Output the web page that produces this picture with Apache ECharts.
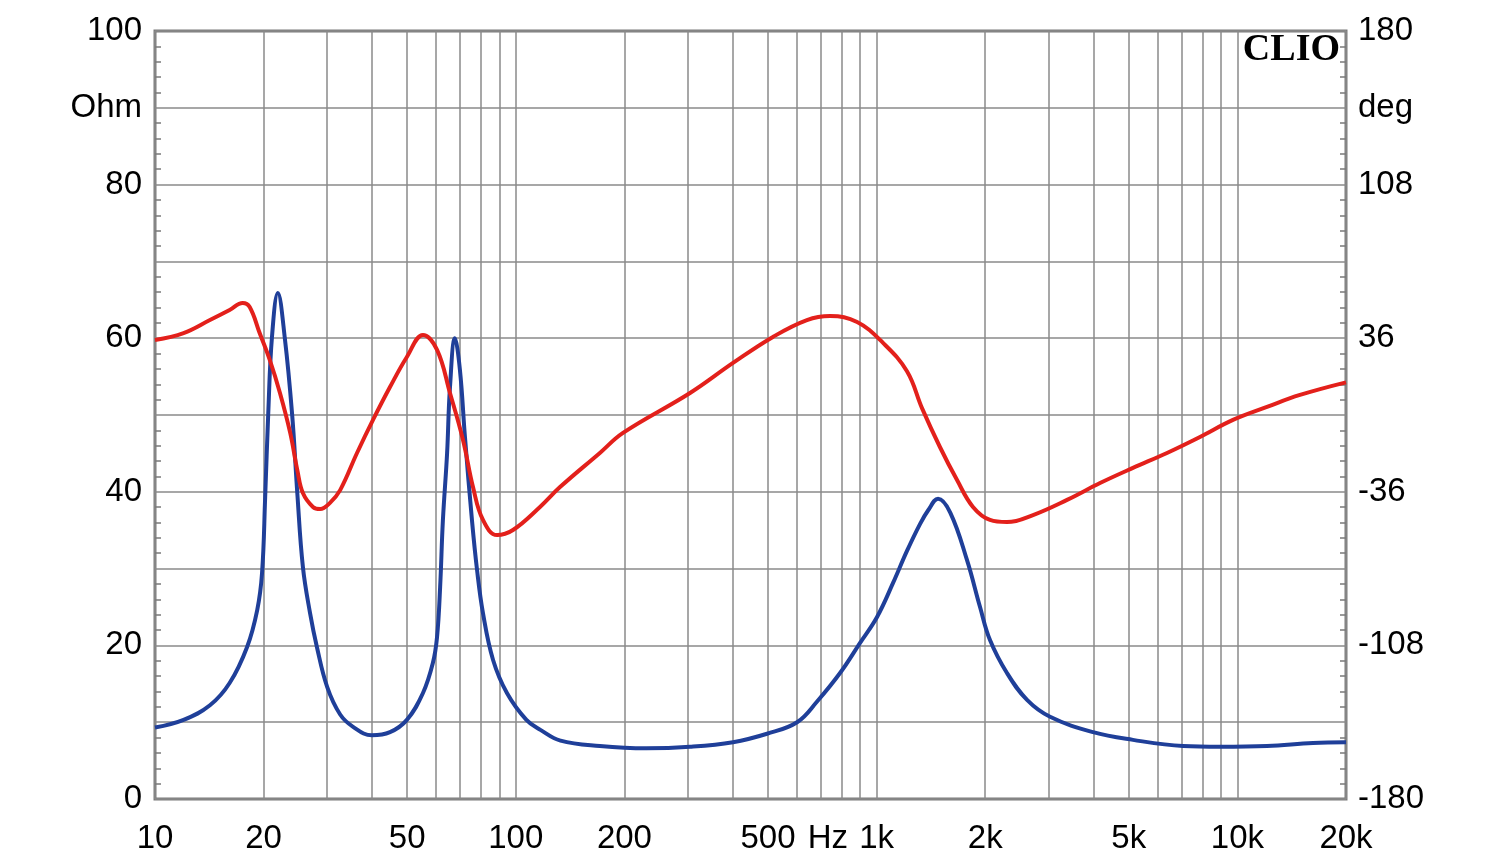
<!DOCTYPE html>
<html>
<head>
<meta charset="utf-8">
<style>
html,body{margin:0;padding:0;background:#fff;}
#chart{width:1500px;height:864px;}
</style>
<script src="https://cdn.jsdelivr.net/npm/echarts@6/dist/echarts.min.js"></script>
</head>
<body>
<div id="chart"></div>
<script>
// Impedance (Ohm) vs frequency (Hz)
const impFreq = [10,12,14.2,16.1,18,19.2,19.8,20.2,20.6,21.1,21.9,22.9,24,24.8,25.7,26.9,28.1,30,32.6,35.4,39.9,44.8,49.9,55.3,58.9,60.5,61.7,62.8,64.5,65.7,67.8,70,72.3,75.6,78.1,81.1,86.5,94.5,107,117,133,171,230,304,400,497,602,684,792,899,1003,1110,1214,1319,1390,1480,1600,1781,1935,2062,2298,2612,3025,3980,5135,7068,8950,12080,16200,20000];
const impOhm  = [9.3,10.3,12.2,15.1,19.8,24.6,29.4,39.3,50.2,60.2,65.9,60,50,39.8,30.2,24.2,19.8,14.6,11,9.4,8.3,8.7,10.3,13.8,17.7,21.1,27.6,36.3,45,53.6,60,55.9,47.1,36.3,29.8,24.2,18.1,13.8,10.3,9.0,7.6,6.9,6.6,6.8,7.4,8.5,10.0,12.7,16.4,20.3,23.7,28.1,32.3,35.8,37.6,39.1,37.3,31.1,25,20.7,16.4,12.9,10.7,8.7,7.7,6.9,6.8,6.9,7.3,7.4];
// Phase (deg) vs frequency (Hz)
const phaseFreq = [10,12,14.2,16.1,17.5,18.3,19.5,20.8,22.2,23.7,24.8,25.7,27.4,28.7,30.5,32.6,36.3,40.2,44.8,49.9,55.3,60.5,65.7,71.4,76.1,81.1,88.7,98.2,116.7,132.6,171,198.2,304,400,516,641,743,883,1042,1214,1338,1498,1671,1850,2062,2298,2714,3372,4162,5135,6381,7876,9722,12080,14910,20000];
const phaseDeg  = [35.2,38.4,44.5,49.2,52.5,50.6,38.4,25.8,10.3,-8.4,-25.8,-36.6,-43.1,-44.1,-41.3,-35.2,-17.8,-2.3,13.1,27.2,37.5,30.5,10.3,-11.7,-33.8,-49.2,-56.3,-53.9,-43.1,-33.8,-17.8,-8.4,10.3,24.4,36.6,44.5,46.4,43.6,33.8,20.5,3,-15,-30.5,-43.1,-49.2,-50.2,-46.9,-39.8,-31.9,-24.8,-17.8,-10.3,-2.3,3.8,9.4,15.3];
// Axis ticks
const gridFreqs = [10,20,30,40,50,60,70,80,90,100,200,300,400,500,600,700,800,900,1000,2000,3000,4000,5000,6000,7000,8000,9000,10000,20000];
const xLabelFreqs = [10,20,50,100,200,500,733,1000,2000,5000,10000,20000];
const xLabelTexts = ['10','20','50','100','200','500','Hz','1k','2k','5k','10k','20k'];
const ohmLabels = [0,20,40,60,80,90,100];
const degLabels = [-180,-108,-36,36,108,144,180];

const lg = v => Math.log10(v);
const impData = impFreq.map((f,i)=>[lg(f), impOhm[i]]);
const phaseData = phaseFreq.map((f,i)=>[lg(f), phaseDeg[i]]);
const xLabelPos = xLabelFreqs.map(lg);

const FONT = 'Liberation Sans';
const GRID = '#8a8a8a';
const FRAME = '#7a7a7a';

const chart = echarts.init(document.getElementById('chart'), null, {renderer:'canvas'});
chart.setOption({
  animation:false,
  backgroundColor:'#ffffff',
  grid:{left:155,right:154,top:31,bottom:65,show:true,borderColor:FRAME,borderWidth:3,backgroundColor:'transparent'},
  xAxis:{
    type:'value', min:1, max:lg(20000),
    axisLine:{show:false},
    axisTick:{show:false, customValues: gridFreqs.map(lg)},
    splitLine:{show:true, lineStyle:{color:GRID,width:1.5}},
    axisLabel:{
      customValues: xLabelPos,
      margin:23,
      color:'#000',
      fontFamily:FONT, fontSize:33,
      formatter:function(v){
        let best=0,bd=1e9;
        xLabelPos.forEach((p,i)=>{const d=Math.abs(p-v); if(d<bd){bd=d;best=i;}});
        return xLabelTexts[best];
      }
    }
  },
  yAxis:[{
    type:'value', min:0, max:100, interval:10,
    axisLine:{show:false},
    axisTick:{show:false, inside:true},
    minorTick:{show:true, splitNumber:5, length:6, lineStyle:{color:FRAME,width:1.5}},
    splitLine:{show:true, lineStyle:{color:GRID,width:1.5}},
    axisLabel:{
      customValues: ohmLabels, margin:13, color:'#000', fontFamily:FONT, fontSize:33,
      formatter:v => v===90 ? 'Ohm' : String(v)
    }
  },{
    type:'value', min:-180, max:180, interval:36, position:'right',
    axisLine:{show:false},
    axisTick:{show:false, inside:true},
    minorTick:{show:true, splitNumber:5, length:6, lineStyle:{color:FRAME,width:1.5}},
    splitLine:{show:false},
    axisLabel:{
      customValues: degLabels, margin:12, color:'#000', fontFamily:FONT, fontSize:33,
      formatter:v => v===144 ? 'deg' : String(v)
    }
  }],
  graphic:[{
    type:'text', right:160, top:31, z:100,
    style:{text:'CLIO', font:'bold 38px "Liberation Serif"', fill:'#000'}
  }],
  series:[{
    type:'line', name:'Impedance', yAxisIndex:0, data:impData,
    showSymbol:false, smooth:0.4,
    lineStyle:{color:'#1f3f99', width:4}, z:3
  },{
    type:'line', name:'Phase', yAxisIndex:1, data:phaseData,
    showSymbol:false, smooth:0.4,
    lineStyle:{color:'#e3201b', width:4}, z:4
  }]
});
</script>
</body>
</html>
